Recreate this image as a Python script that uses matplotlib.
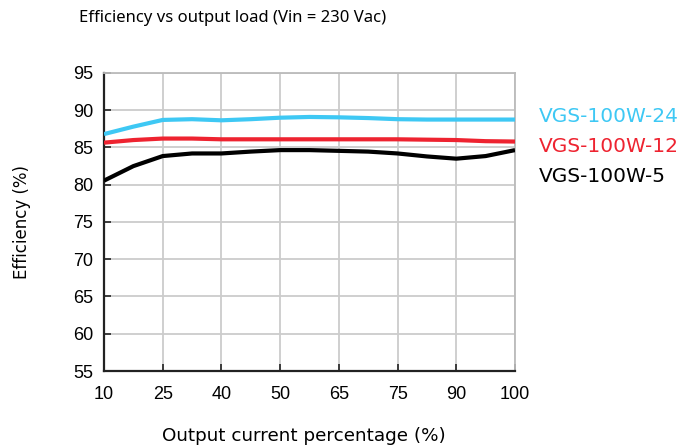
import matplotlib
matplotlib.use('Agg')
import matplotlib.pyplot as plt

# category labels on x axis (evenly spaced)
loadLabels = ['10', '25', '40', '50', '65', '75', '90', '100']
# positions along the category axis where values were read (half steps)
readPos = [0, 0.5, 1, 1.5, 2, 2.5, 3, 3.5, 4, 4.5, 5, 5.5, 6, 6.5, 7]

eff24 = [86.8, 87.8, 88.7, 88.8, 88.65, 88.8, 89.0, 89.1, 89.05, 88.95, 88.8, 88.75, 88.75, 88.75, 88.75]
eff12 = [85.65, 86.0, 86.2, 86.2, 86.1, 86.1, 86.1, 86.1, 86.1, 86.1, 86.1, 86.05, 86.0, 85.85, 85.8]
eff5 = [80.55, 82.5, 83.85, 84.2, 84.2, 84.45, 84.65, 84.65, 84.55, 84.45, 84.2, 83.8, 83.5, 83.85, 84.65]

seriesNames = ['VGS-100W-24', 'VGS-100W-12', 'VGS-100W-5']
seriesColors = ['#3EC8F4', '#EE2330', '#000000']

fig = plt.figure(figsize=(6.97, 4.48), dpi=100)
ax = fig.add_axes([104 / 697, 1 - 371 / 448, (515 - 104) / 697, (371 - 73) / 448])

for vals, c in zip([eff24, eff12, eff5], seriesColors):
    ax.plot(readPos, vals, color=c, lw=3.0, solid_capstyle='butt', zorder=3)

ax.set_xlim(0, len(loadLabels) - 1)
ax.set_ylim(55, 95)
ax.set_xticks(range(len(loadLabels)))
ax.set_xticklabels(loadLabels)
ax.set_yticks(range(55, 96, 5))
ax.grid(True, color='#CCCCCC', lw=1.3)
ax.set_axisbelow(True)
ax.tick_params(direction='in', length=5, width=1.2, colors='#222222',
               labelcolor='black', labelsize=13, pad=8)
ax.tick_params(axis='x', pad=11)
for lab in ax.get_xticklabels() + ax.get_yticklabels():
    lab.set_fontfamily('Liberation Sans')
for s in ['top', 'right']:
    ax.spines[s].set_color('#BBBBBB')
    ax.spines[s].set_linewidth(1.3)
for s in ['left', 'bottom']:
    ax.spines[s].set_color('#222222')
    ax.spines[s].set_linewidth(1.6)

fig.text(233 / 697, 1 - 18.5 / 448, 'Efficiency vs output load (Vin = 230 Vac)',
         ha='center', va='center', fontsize=12, family='Noto Sans')
fig.text(304 / 697, 1 - 436 / 448, 'Output current percentage (%)',
         ha='center', va='center', fontsize=13.2, family='DejaVu Sans')
fig.text(22 / 697, 1 - 222 / 448, 'Efficiency (%)', rotation=90,
         ha='center', va='center', fontsize=12, family='DejaVu Sans')

legendY = [116, 146, 176]
for name, c, y in zip(seriesNames, seriesColors, legendY):
    fig.text(539 / 697, 1 - y / 448, name, color=c, ha='left', va='center',
             fontsize=14.5, family='DejaVu Sans')

fig.savefig('out.png', dpi=100)
